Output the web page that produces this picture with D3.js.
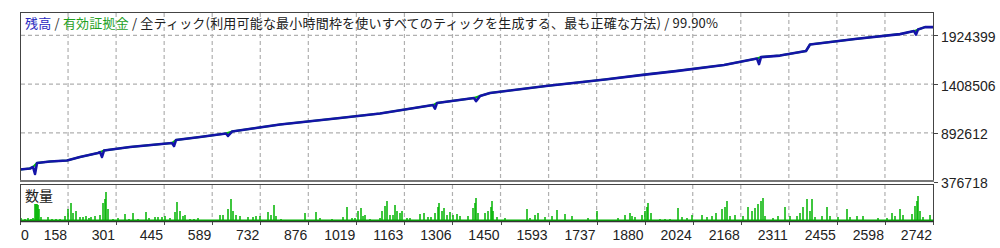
<!DOCTYPE html>
<html>
<head>
<meta charset="utf-8">
<script src="https://cdn.jsdelivr.net/npm/d3@7"></script>
<style>
body { margin: 0; background: #fff; }
</style>
</head>
<body>
<div id="chart"></div>
<script>
// tick labels
const xTickLabels = [0, 158, 301, 445, 589, 732, 876, 1019, 1163, 1306, 1450, 1593, 1737, 1880, 2024, 2168, 2311, 2455, 2598, 2742];
const yTickLabels = [376718, 892612, 1408506, 1924399];

// balance curve: [trade no, balance]
const balance = [
    [0, 505000], [30, 516000], [39, 532000], [45, 458000], [51, 574000], [90, 590000],
    [141, 601000], [180, 638000], [234, 680000], [240, 690000], [246, 638000], [252, 706000],
    [330, 743000], [456, 786000], [462, 754000], [468, 817000], [540, 849000], [618, 886000],
    [624, 860000], [636, 907000], [780, 981000], [960, 1050000], [1080, 1097000], [1239, 1187000],
    [1245, 1150000], [1251, 1208000], [1362, 1261000], [1368, 1229000], [1380, 1282000],
    [1410, 1314000], [1578, 1388000], [1755, 1457000], [1875, 1509000], [1968, 1546000],
    [2112, 1610000], [2211, 1679000], [2217, 1620000], [2223, 1694000], [2280, 1710000],
    [2358, 1758000], [2370, 1827000], [2505, 1885000], [2640, 1937000], [2682, 1969000],
    [2688, 1932000], [2694, 1985000], [2715, 2011000], [2742, 2011000]
];
// trades where the balance dips and the equity line stays above
const dipTrades = [45, 246, 462, 624, 1245, 1368, 2217, 2688];

// lot volume spikes: [trade no, lots]
const volume = [
    [3,3],[15,2],[24,3],[33,2],[39,3],[45,17],[48,17],[51,17],[54,16],[57,12],[63,4],[84,4],[96,2],[108,2],[120,2],
    [135,5],[144,12],[153,18],[159,8],[168,10],[180,4],[189,4],[198,5],[207,3],[213,4],[225,5],[240,6],[249,18],
    [255,22],[258,29],[264,12],[279,2],[294,3],[315,7],[327,2],[339,8],[354,2],[378,9],[387,3],[405,4],[414,4],
    [426,4],[435,5],[450,3],[465,9],[471,19],[480,10],[489,5],[495,6],[510,2],[522,2],[534,3],[600,6],[609,6],
    [624,12],[633,22],[639,10],[648,6],[660,5],[684,4],[699,4],[708,5],[720,5],[744,9],[753,6],[762,16],[768,5],
    [783,2],[855,8],[888,9],[900,3],
    [936,2],[954,1],[969,4],[981,14],[996,3],[1005,3],[1014,10],[1023,13],[1029,5],[1035,6],[1050,2],[1080,3],
    [1086,10],[1095,15],[1101,20],[1110,6],[1119,6],[1125,16],[1131,10],[1140,8],[1146,10],[1161,3],[1170,3],
    [1200,7],[1212,8],[1224,4],[1233,4],[1245,8],[1254,14],[1257,18],[1266,10],[1272,13],[1281,6],[1290,9],
    [1299,6],[1311,7],[1320,5],[1344,5],[1359,13],[1365,18],[1368,23],[1374,8],[1395,8],[1404,10],[1413,14],
    [1416,20],[1419,10],[1431,4],[1455,3],[1521,12],[1530,3],[1545,6],[1554,8],[1575,4],[1596,5],[1611,11],
    [1635,7],[1656,5],[1704,3],[1731,10],[1794,3],[1815,6],[1830,8],
    [1836,5],[1845,4],[1866,6],[1875,10],[1881,14],[1884,18],[1893,8],[1920,2],[1935,2],[1950,2],[1974,13],
    [1986,4],[2001,3],[2016,6],[2046,6],[2061,4],[2076,5],[2088,8],[2106,12],[2115,14],[2121,20],[2130,5],
    [2145,6],[2169,5],[2184,14],[2196,10],[2205,13],[2214,17],[2223,20],[2229,23],[2235,5],[2259,3],[2274,5],
    [2295,14],[2310,5],[2331,5],[2340,8],[2349,14],[2361,22],[2370,10],[2376,22],[2385,4],[2406,5],[2421,14],
    [2430,5],[2454,4],[2481,12],[2490,4],[2511,5],[2529,5],[2574,3],[2601,3],[2616,8],[2625,5],[2640,12],
    [2649,6],[2676,7],[2685,15],[2691,20],[2694,25],[2700,10],[2709,4],[2730,6]
];
const minLot = 1.5;
const lastTrade = 2742;

const titleParts = [
    { text: "残高", color: "#2a2ac0" },
    { text: " / ", color: "#303030" },
    { text: "有効証拠金", color: "#1ea01e" },
    { text: " / 全ティック(利用可能な最小時間枠を使いすべてのティックを生成する、最も正確な方法) / 99.90%", color: "#202020" }
];

const width = 1000, height = 248;
const left = 20, right = 934;
const mainTop = 12, mainBottom = 182;
const volTop = 184, volBottom = 222;

const svg = d3.select("#chart").append("svg")
    .attr("width", width)
    .attr("height", height);

// scales
const x = d3.scaleLinear().domain([0, lastTrade]).range([left, right]);
const gx = d3.scaleLinear().domain([0, xTickLabels.length - 1]).range([left, right - 1]);
const y = d3.scaleLinear().domain([yTickLabels[0], yTickLabels[3]]).range([181.7, 35.3]);
const yv = d3.scaleLinear().domain([0, 37]).range([221, 184]);

svg.append("clipPath").attr("id", "mainClip")
    .append("rect").attr("x", left).attr("y", mainTop).attr("width", right - left).attr("height", mainBottom - mainTop);

// dashed grid
const grid = svg.append("g")
    .attr("stroke", "#b0b0b0")
    .attr("stroke-width", 1.2)
    .attr("stroke-dasharray", "4 3");
d3.range(1, xTickLabels.length - 1).forEach(i => {
    const xp = gx(i);
    grid.append("line").attr("x1", xp).attr("x2", xp).attr("y1", mainTop + 1).attr("y2", mainBottom - 2);
    grid.append("line").attr("x1", xp).attr("x2", xp).attr("y1", volTop + 1).attr("y2", volBottom - 1);
});
yTickLabels.slice(1).forEach(v => {
    const yp = y(v);
    grid.append("line").attr("x1", left + 1).attr("x2", right - 1).attr("y1", yp).attr("y2", yp);
});

// title
const title = svg.append("text")
    .attr("x", 25).attr("y", 28)
    .attr("font-family", "'Noto Sans CJK JP', sans-serif")
    .attr("font-size", 13)
    .attr("textLength", 693)
    .attr("lengthAdjust", "spacing");
titleParts.forEach(p => {
    title.append("tspan").attr("fill", p.color).text(p.text);
});

// equity (green) under balance (blue)
const line = d3.line().x(d => x(d[0])).y(d => y(d[1]));
const equity = balance.filter(d => !dipTrades.includes(d[0]));
svg.append("path")
    .datum(equity)
    .attr("clip-path", "url(#mainClip)")
    .attr("fill", "none")
    .attr("stroke", "#00c000")
    .attr("stroke-width", 2)
    .attr("d", line);
svg.append("path")
    .datum(balance)
    .attr("clip-path", "url(#mainClip)")
    .attr("fill", "none")
    .attr("stroke", "#1414a8")
    .attr("stroke-width", 2.6)
    .attr("stroke-linejoin", "round")
    .attr("d", line);

// volume bars
svg.append("rect")
    .attr("x", x(0)).attr("width", x(lastTrade) - x(0))
    .attr("y", yv(minLot)).attr("height", yv(0) - yv(minLot))
    .attr("fill", "#00b400");
svg.append("g").selectAll("rect")
    .data(volume)
    .enter().append("rect")
    .attr("x", d => x(d[0]) - 0.75)
    .attr("width", 1.5)
    .attr("y", d => yv(d[1]))
    .attr("height", d => yv(0) - yv(d[1]))
    .attr("fill", "#00b400");

svg.append("text")
    .attr("x", 25).attr("y", 201)
    .attr("font-family", "'Noto Sans CJK JP', sans-serif")
    .attr("font-size", 14)
    .attr("fill", "#202020")
    .text("数量");

// panel frames
svg.append("rect")
    .attr("x", left + 0.5).attr("y", mainTop + 0.5)
    .attr("width", right - left - 1).attr("height", mainBottom - mainTop - 1)
    .attr("fill", "none").attr("stroke", "#444").attr("stroke-width", 1);
svg.append("line")
    .attr("x1", left).attr("x2", right)
    .attr("y1", mainBottom - 1).attr("y2", mainBottom - 1)
    .attr("stroke", "#777").attr("stroke-width", 2);
svg.append("rect")
    .attr("x", left + 0.5).attr("y", volTop + 0.5)
    .attr("width", right - left - 1).attr("height", volBottom - volTop - 1)
    .attr("fill", "none").attr("stroke", "#444").attr("stroke-width", 1);
svg.append("line")
    .attr("x1", left).attr("x2", right)
    .attr("y1", volBottom - 0.5).attr("y2", volBottom - 0.5)
    .attr("stroke", "#333").attr("stroke-width", 1.5);

// right axis
const yAxis = svg.append("g");
yAxis.selectAll("line")
    .data(yTickLabels)
    .enter().append("line")
    .attr("x1", right).attr("x2", right + 4)
    .attr("y1", d => Math.round(y(d)) + 0.5).attr("y2", d => Math.round(y(d)) + 0.5)
    .attr("stroke", "#444");
yAxis.selectAll("text")
    .data(yTickLabels)
    .enter().append("text")
    .attr("x", 941)
    .attr("y", d => y(d) + 6.5)
    .attr("font-family", "'Liberation Sans', Arial, sans-serif")
    .attr("font-size", 14)
    .attr("fill", "#222")
    .text(d => d);

// bottom axis
const xAxis = svg.append("g");
xAxis.selectAll("line")
    .data(d3.range(xTickLabels.length))
    .enter().append("line")
    .attr("x1", d => Math.round(gx(d)) + 0.5).attr("x2", d => Math.round(gx(d)) + 0.5)
    .attr("y1", volBottom).attr("y2", volBottom + 3)
    .attr("stroke", "#444");
xAxis.selectAll("text")
    .data(xTickLabels)
    .enter().append("text")
    .attr("x", (d, i) => i === 0 ? gx(i) + 1 : gx(i) - 1)
    .attr("y", 240)
    .attr("text-anchor", (d, i) => i === 0 ? "start" : "end")
    .attr("font-family", "'Liberation Sans', Arial, sans-serif")
    .attr("font-size", 14)
    .attr("fill", "#222")
    .text(d => d);
</script>
</body>
</html>
